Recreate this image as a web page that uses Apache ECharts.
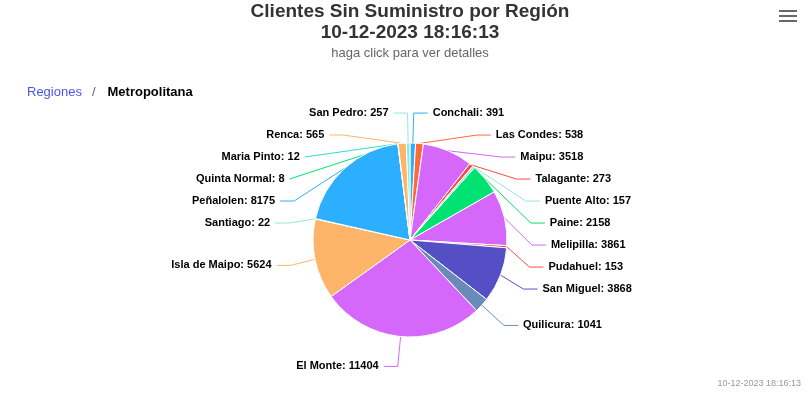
<!DOCTYPE html>
<html>
<head>
<meta charset="utf-8">
<script src="https://cdn.jsdelivr.net/npm/echarts@6/dist/echarts.min.js"></script>
<style>
html,body{margin:0;padding:0;background:#fff;}
#chart{width:806px;height:394px;}
</style>
</head>
<body>
<div id="chart"></div>
<script>
// Data
var comunas = ['Conchali','Las Condes','Maipu','Talagante','Puente Alto','Paine','Melipilla','Pudahuel','San Miguel','Quilicura','El Monte','Isla de Maipo','Santiago','Peñalolen','Quinta Normal','Maria Pinto','Renca','San Pedro'];
var clientes = [391,538,3518,273,157,2158,3861,153,3868,1041,11404,5624,22,8175,8,12,565,257];
var sliceColors = ['#2caffe','#fe6a35','#d568fb','#fa4b42','#91e8e1','#00e272','#d568fb','#fa4b42','#544fc5','#6b8abc','#d568fb','#feb56a','#91e8e1','#2caffe','#00e272','#2ee0ca','#feb56a','#91e8e1'];
var titleText = 'Clientes Sin Suministro por Región';
var fecha = '10-12-2023 18:16:13';
var subtitleText = 'haga click para ver detalles';
var breadcrumbRoot = 'Regiones';
var breadcrumbCurrent = 'Metropolitana';

var font = '"Liberation Sans", Arial, Helvetica, sans-serif';
var pieData = comunas.map(function(n,i){
  return {name:n, value:clientes[i], itemStyle:{color:sliceColors[i]}};
});

var chart = echarts.init(document.getElementById('chart'));
chart.setOption({
  animation:false,
  title:[
    {text:titleText+'\n'+fecha, left:410, top:1, textAlign:'center', padding:0,
     textStyle:{fontFamily:font,fontSize:19,fontWeight:'bold',color:'#333',lineHeight:21}},
    {text:subtitleText, left:410, top:47, textAlign:'center', padding:0,
     textStyle:{fontFamily:font,fontSize:13,fontWeight:'normal',color:'#666'}},
    {text:'{a|'+breadcrumbRoot+'}{s|/}{b|'+breadcrumbCurrent+'}', left:27, top:86, padding:0,
     textStyle:{fontFamily:font,fontWeight:'normal',rich:{
       a:{fontFamily:font,fontSize:13,fontWeight:'normal',color:'#4a55e8'},
       s:{fontFamily:font,fontSize:13,fontWeight:'normal',color:'#666',padding:[0,12,0,10]},
       b:{fontFamily:font,fontSize:13,fontWeight:'bold',color:'#000'}}}},
    {text:fecha, right:5, bottom:6, padding:0,
     textStyle:{fontFamily:font,fontSize:9,fontWeight:'normal',color:'#999'}}
  ],
  graphic:[
    {type:'rect',shape:{x:779,y:10,width:18,height:2},style:{fill:'#666'}},
    {type:'rect',shape:{x:779,y:15,width:18,height:2},style:{fill:'#666'}},
    {type:'rect',shape:{x:779,y:20,width:18,height:2},style:{fill:'#666'}}
  ],
  series:[{
    type:'pie',
    center:[410,240],
    radius:97,
    startAngle:90,
    clockwise:true,
    avoidLabelOverlap:true,
    itemStyle:{borderColor:'#fff',borderWidth:1},
    label:{
      formatter:'{b}: {c}',
      fontFamily:font,fontSize:11,fontWeight:'bold',color:'#000',
      lineHeight:20
    },
    labelLine:{length:30,length2:14,lineStyle:{width:1}},
    emphasis:{disabled:true},
    data:pieData
  }]
});
</script>
</body>
</html>
